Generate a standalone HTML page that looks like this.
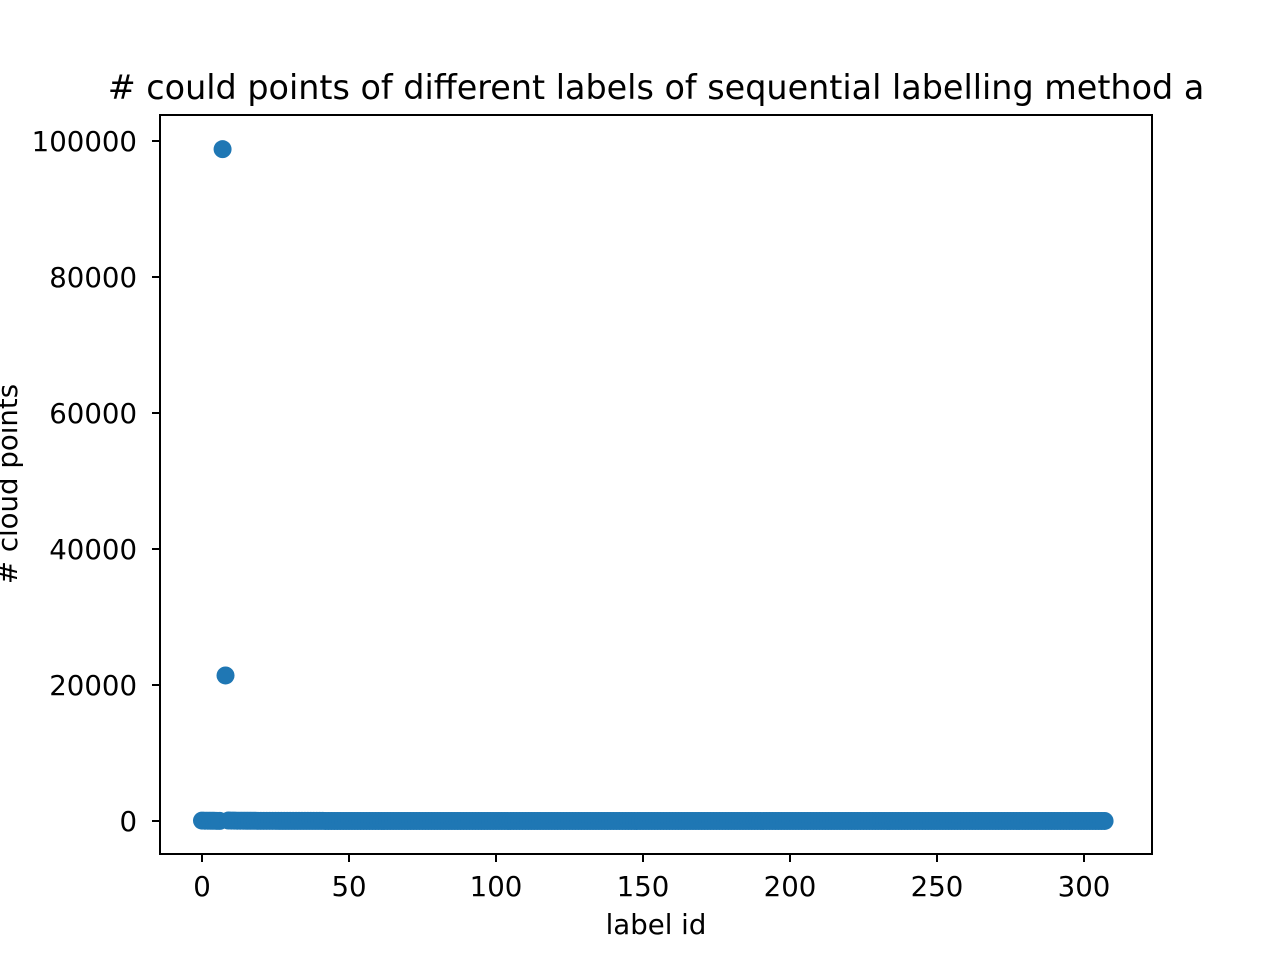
<!DOCTYPE html>
<html><head><meta charset="utf-8"><style>
html,body{margin:0;padding:0;background:#fff}
svg text{font-family:"DejaVu Sans","Liberation Sans",sans-serif;fill:#000}
</style></head><body>
<svg id="chart" width="1280" height="960" xmlns="http://www.w3.org/2000/svg">
<rect width="1280" height="960" fill="#fff"/>
<text x="656" y="99" font-size="33.4" text-anchor="middle"># could points of different labels of sequential labelling method a</text>
<g id="marks"></g>
<rect x="160" y="115" width="992" height="739" fill="none" stroke="#000" stroke-width="2"/>
<g id="xticks"></g><g id="yticks"></g>
<text x="656" y="934" font-size="27.6" text-anchor="middle">label id</text>
<text transform="translate(17,484) rotate(-90)" font-size="27.6" text-anchor="middle"># cloud points</text>
</svg>
<script>
const counts = [
60,45,40,35,30,25,18,98800,21400,70,
60,50,45,40,38,36,32,30,28,27,25,24,22,21,20,19,18,17,16,15,
15,14,14,13,13,12,12,11,11,10,10,10,9,9,9,8,8,8,8,7,
7,7,7,6,6,6,6,6,5,5,5,5,5,5,4,4,4,4,4,4,
4,3,3,3,3,3,3,3,3,3,3,2,2,2,2,2,2,2,2,2,
2,2,2,2,2,2,2,2,2,2,2,2,2,2,2,2,2,2,2,2,
2,2,2,2,2,1,1,1,1,1,1,1,1,1,1,1,1,1,1,1,
1,1,1,1,1,1,1,1,1,1,1,1,1,1,1,1,1,1,1,1,
1,1,1,1,1,1,1,1,1,1,1,1,1,1,1,1,1,1,1,1,
1,1,1,1,1,1,1,1,1,1,1,1,1,1,1,1,1,1,1,1,
1,1,1,1,1,1,1,1,1,1,1,1,1,1,1,1,1,1,1,1,
1,1,1,1,1,1,1,1,1,1,1,1,1,1,1,1,1,1,1,1,
1,1,1,1,1,1,1,1,1,1,1,1,1,1,1,1,1,1,1,1,
1,1,1,1,1,1,1,1,1,1,1,1,1,1,1,1,1,1,1,1,
1,1,1,1,1,1,1,1,1,1,1,1,1,1,1,1,1,1,1,1,
1,1,1,1,1,1,1,1,1,1,1,1,1,1,1,1,1,1];
const xTicks = [0,50,100,150,200,250,300];
const yTicks = [0,20000,40000,60000,80000,100000];
const NS="http://www.w3.org/2000/svg";
const sx = v => 202 + v*2.94;
const sy = v => 821 - v*0.0068;
const marks=document.getElementById('marks');
counts.forEach((c,i)=>{
  const el=document.createElementNS(NS,'circle');
  el.setAttribute('cx',sx(i));el.setAttribute('cy',sy(c));el.setAttribute('r',9);el.setAttribute('fill','#1f77b4');
  
  
  marks.appendChild(el);
});
const xg=document.getElementById('xticks');
xTicks.forEach(t=>{
  const l=document.createElementNS(NS,'line');
  l.setAttribute('x1',sx(t));l.setAttribute('x2',sx(t));l.setAttribute('y1',854);l.setAttribute('y2',862);l.setAttribute('stroke','#000');l.setAttribute('stroke-width',2);
  
  
  xg.appendChild(l);
  const tx=document.createElementNS(NS,'text');
  tx.setAttribute('x',sx(t));tx.setAttribute('y',896);tx.setAttribute('font-size','27.6');tx.setAttribute('text-anchor','middle');
  tx.textContent=t;
  
  
  xg.appendChild(tx);
});
const yg=document.getElementById('yticks');
yTicks.forEach(t=>{
  const l=document.createElementNS(NS,'line');
  l.setAttribute('x1',152);l.setAttribute('x2',160);l.setAttribute('y1',sy(t));l.setAttribute('y2',sy(t));l.setAttribute('stroke','#000');l.setAttribute('stroke-width',2);
  
  
  yg.appendChild(l);
  const tx=document.createElementNS(NS,'text');
  tx.setAttribute('x',137);tx.setAttribute('y',sy(t)+10);tx.setAttribute('font-size','27.6');tx.setAttribute('text-anchor','end');
  tx.textContent=t;
  
  
  yg.appendChild(tx);
});
</script>
</body></html>
